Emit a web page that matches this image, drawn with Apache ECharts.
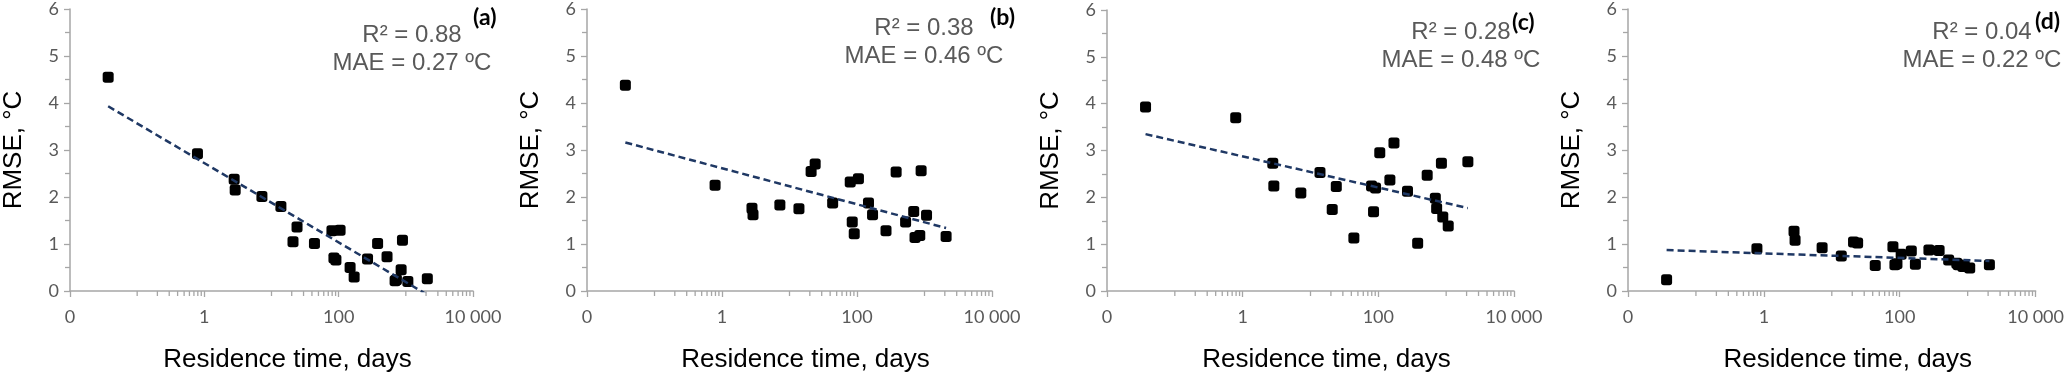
<!DOCTYPE html>
<html>
<head>
<meta charset="utf-8">
<title>RMSE vs residence time</title>
<script src="https://cdn.jsdelivr.net/npm/echarts@6/dist/echarts.min.js"></script>
<style>
    html, body { margin: 0; padding: 0; background: #fff; }
    #main { width: 2067px; height: 378px; }
</style>
</head>
<body>
<div id="main"></div>
<script>
// residence time, days (the same lakes in every panel)
var residence = [0.037, 0.79, 2.78, 2.88, 7.2, 13.8, 20.9, 24, 43.6, 79.4, 105, 85, 91,
                 148, 170, 269, 380, 525, 692, 724, 851, 891, 1072, 2089];
// RMSE, °C per panel
var rmseA = [4.55, 2.92, 2.38, 2.15, 2.01, 1.80, 1.05, 1.36, 1.01, 1.28, 1.29, 0.70, 0.66,
             0.50, 0.30, 0.68, 1.01, 0.73, 0.22, 0.24, 0.45, 1.08, 0.20, 0.26];
var rmseB = [4.38, 2.25, 1.76, 1.62, 1.83, 1.75, 2.54, 2.70, 1.87, 2.32, 2.39, 1.47, 1.22,
             1.87, 1.62, 1.28, 2.53, 1.47, 1.69, 1.14, 1.18, 2.56, 1.61, 1.16];
var rmseC = [3.93, 3.70, 2.73, 2.24, 2.09, 2.53, 1.74, 2.23, 1.13, 2.24, 2.95, 1.69, 2.20,
             2.37, 3.16, 2.13, 1.02, 2.47, 1.98, 1.76, 2.73, 1.58, 1.39, 2.76];
var rmseD = [0.24, 0.90, 1.27, 1.08, 0.92, 0.745, 1.04, 1.02, 0.54, 0.94, 0.78, 0.56, 0.58,
             0.85, 0.57, 0.87, 0.86, 0.66, 0.59, 0.56, 0.52, 0.55, 0.49, 0.56];
// trend line values at the first and last residence time
var trendA = [3.93, -0.08];
var trendB = [3.16, 1.34];
var trendC = [3.35, 1.77];
var trendD = [0.87, 0.64];

var panelNames = ['(a)', '(b)', '(c)', '(d)'];
var r2Labels = ['R² = 0.88', 'R² = 0.38', 'R² = 0.28', 'R² = 0.04'];
var maeLabels = ['MAE = 0.27 ºC', 'MAE = 0.46 ºC', 'MAE = 0.48 ºC', 'MAE = 0.22 ºC'];
var xTickLabels = ['0', '1', '100', '10 000'];
var xMinorTicks = [0.1, 0.2, 0.3, 0.4, 0.5, 0.6, 0.7, 0.8, 0.9,
                   10, 20, 30, 40, 50, 60, 70, 80, 90,
                   1000, 2000, 3000, 4000, 5000, 6000, 7000, 8000, 9000];

var rmse = [rmseA, rmseB, rmseC, rmseD];
var trends = [trendA, trendB, trendC, trendD];

// layout of the four panels
var lefts = [68, 587, 1107, 1628];
var widths = [405, 405, 407, 409];
var tops = [9, 7.5, 10, 7.5];
var bottoms = [295, 294.5, 295.5, 295];
var statX = [412, 924, 1461, 1982];
var statY = [35, 28, 32, 32];
var tagX = [473, 990, 1512, 2035];
var tagY = [18, 18, 23, 22];

var axisGray = '#A6A6A6';
var textGray = '#595959';

var grid = [], xAxis = [], yAxis = [], series = [], graphic = [];

for (var i = 0; i < 4; i++) {
    grid.push({left: lefts[i], top: tops[i], width: widths[i], height: bottoms[i] - tops[i]});

    xAxis.push({
        gridIndex: i,
        type: 'log',
        logBase: 100,
        min: 0.01,
        max: 10000,
        name: 'Residence time, days',
        nameLocation: 'middle',
        nameGap: 56,
        nameTextStyle: {color: '#000', fontFamily: 'Liberation Sans', fontSize: 26, padding: [0, 0, 0, 32]},
        axisLine: {lineStyle: {color: axisGray, width: 1.5}},
        axisTick: {length: 6, lineStyle: {color: axisGray, width: 1.3}},
        minorTick: {show: false},
        splitLine: {show: false},
        axisLabel: {
            margin: 17,
            color: textGray,
            fontFamily: 'Lato',
            fontSize: 18,
            formatter: function (v, idx) { return xTickLabels[idx]; }
        }
    });

    yAxis.push({
        gridIndex: i,
        type: 'value',
        min: 0,
        max: 6,
        interval: 1,
        name: 'RMSE, °C',
        nameLocation: 'middle',
        nameGap: 43,
        nameTextStyle: {color: '#000', fontFamily: 'Liberation Sans', fontSize: 26},
        axisLine: {show: true, lineStyle: {color: axisGray, width: 1.5}},
        axisTick: {show: true, length: 6, lineStyle: {color: axisGray, width: 1.3}},
        minorTick: {show: true, splitNumber: 2, length: 5, lineStyle: {color: axisGray, width: 1.3}},
        splitLine: {show: false},
        axisLabel: {margin: 11, color: textGray, fontFamily: 'Lato', fontSize: 18}
    });

    series.push({
        type: 'scatter',
        xAxisIndex: i,
        yAxisIndex: i,
        symbol: 'roundRect',
        symbolSize: 11,
        itemStyle: {color: '#000', opacity: 1},
        z: 2,
        data: residence.map(function (x, k) { return [x, rmse[i][k]]; })
    });

    series.push({
        type: 'line',
        xAxisIndex: i,
        yAxisIndex: i,
        symbol: 'none',
        clip: true,
        z: 3,
        lineStyle: {color: '#1F3864', width: 2.5, type: [7, 4]},
        data: [[residence[0], trends[i][0]], [residence[residence.length - 1], trends[i][1]]]
    });

    // excel-style minor ticks on the log axis (2..9 x 10^n)
    series.push({
        type: 'custom',
        xAxisIndex: i,
        yAxisIndex: i,
        clip: false,
        silent: true,
        data: xMinorTicks.map(function (v) { return [v, 0]; }),
        renderItem: function (params, api) {
            var p = api.coord([api.value(0), 0]);
            return {
                type: 'line',
                shape: {x1: p[0], y1: p[1], x2: p[0], y2: p[1] + 5},
                style: {stroke: axisGray, lineWidth: 1.3}
            };
        }
    });

    graphic.push({
        type: 'text', x: statX[i], y: statY[i],
        style: {text: r2Labels[i], fill: textGray, font: '24px "Liberation Sans"', textAlign: 'center', textVerticalAlign: 'middle'}
    });
    graphic.push({
        type: 'text', x: statX[i], y: statY[i] + 28,
        style: {text: maeLabels[i], fill: textGray, font: '24px "Liberation Sans"', textAlign: 'center', textVerticalAlign: 'middle'}
    });
    graphic.push({
        type: 'text', x: tagX[i], y: tagY[i],
        style: {text: panelNames[i], fill: '#000', font: 'bold 23px Lato', textAlign: 'left', textVerticalAlign: 'middle'}
    });
}

var myChart = echarts.init(document.getElementById('main'));
myChart.setOption({
    animation: false,
    grid: grid,
    xAxis: xAxis,
    yAxis: yAxis,
    series: series,
    graphic: graphic
});
</script>
</body>
</html>
